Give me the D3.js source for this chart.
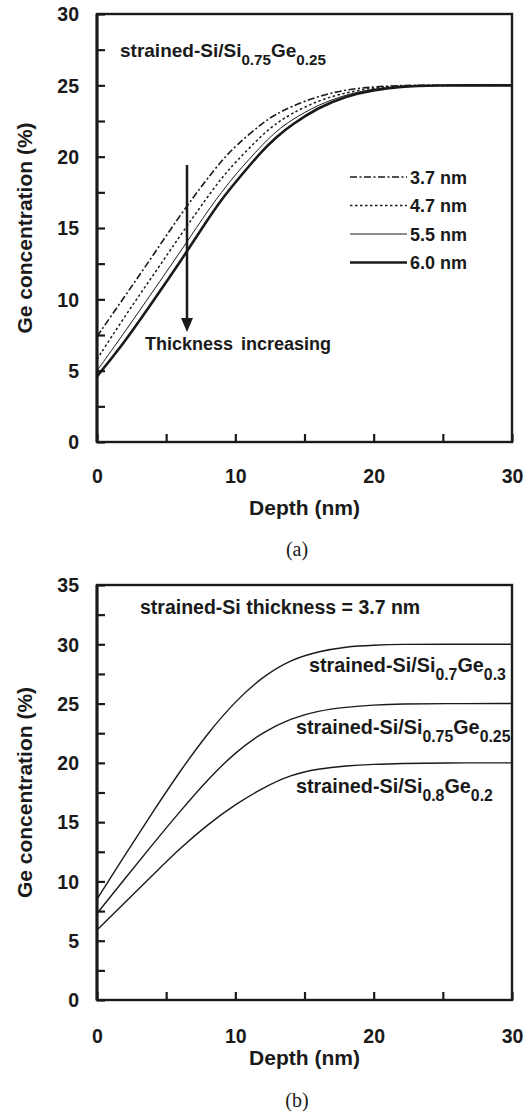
<!DOCTYPE html>
<html>
<head>
<meta charset="utf-8">
<script src="https://cdn.jsdelivr.net/npm/d3@7/dist/d3.min.js"></script>
<style>
  html, body { margin: 0; padding: 0; background: #fff; }
  svg { display: block; }
  text { font-family: "Liberation Sans", Arial, sans-serif; font-weight: bold; fill: #1a1a1a; }
  text.caption { font-family: "Liberation Serif", "Times New Roman", serif; font-weight: normal; }
</style>
</head>
<body>
<svg id="chart" width="530" height="1114"></svg>
<script>
// ---------- Data ----------
// Panel (a): strained-Si/Si0.75Ge0.25, different strained-Si thickness
const depthA = [0, 2, 4, 6, 8, 9, 10, 12, 13, 14, 16, 18, 20, 22, 24, 30];
const thicknessLabels = ["3.7 nm", "4.7 nm", "5.5 nm", "6.0 nm"];
const ge37 = [7.4, 10.2, 13.0, 15.9, 18.5, 19.7, 20.75, 22.4, 23.0, 23.5, 24.25, 24.7, 24.9, 25, 25, 25];
const ge47 = [5.8, 8.8, 11.6, 14.45, 17.2, 18.5, 19.6, 21.6, 22.35, 23.0, 23.95, 24.5, 24.83, 24.97, 25, 25];
const ge55 = [5.0, 7.7, 10.5, 13.3, 16.2, 17.5, 18.75, 20.9, 21.8, 22.55, 23.65, 24.35, 24.76, 24.93, 25, 25];
const ge60 = [4.6, 7.0, 9.8, 12.6, 15.6, 17.0, 18.2, 20.5, 21.4, 22.2, 23.45, 24.25, 24.68, 24.9, 25, 25];

// Panel (b): strained-Si thickness = 3.7 nm, different substrates
const depthB = [0, 2, 4, 6, 8, 10, 12, 14, 16, 18, 20, 22, 25, 30];
const geSub30 = [8.5, 12.2, 15.8, 19.3, 22.5, 25.2, 27.3, 28.7, 29.4, 29.8, 29.93, 30, 30, 30];
const geSub25 = [7.3, 10.2, 13.1, 15.9, 18.6, 20.9, 22.6, 23.75, 24.4, 24.7, 24.88, 24.97, 25, 25];
const geSub20 = [5.9, 8.2, 10.5, 12.8, 14.8, 16.5, 17.9, 19.0, 19.5, 19.75, 19.88, 19.95, 20, 20];

const xTicksMajor = [0, 10, 20, 30];
const yTicksA = [0, 5, 10, 15, 20, 25, 30];
const yTicksB = [0, 5, 10, 15, 20, 25, 30, 35];

// ---------- Drawing ----------
const svg = d3.select("#chart");

function panel(cfg) {
  const x = d3.scaleLinear().domain([0, 30]).range([cfg.left, cfg.right]);
  const y = d3.scaleLinear().domain([0, cfg.ymax]).range([cfg.bottom, cfg.top]);
  const g = svg.append("g");

  // y axis (ticks inward)
  const yAll = d3.range(0, cfg.ymax + 0.01, 2.5);
  const yAx = g.append("g").attr("transform", `translate(${cfg.left},0)`)
    .call(d3.axisLeft(y).tickValues(yAll).tickSize(-8).tickPadding(18)
      .tickFormat(d => cfg.yLabels.includes(d) ? d3.format("d")(d) : ""));
  yAx.select(".domain").remove();
  yAx.selectAll(".tick line").attr("stroke", "#1a1a1a").attr("stroke-width", 2.2);
  yAx.selectAll(".tick text").style("font-size", "19.5px").attr("dy", "0.35em");

  // x axis (ticks inward)
  const xAll = d3.range(0, 30.01, 5);
  const xAx = g.append("g").attr("transform", `translate(0,${cfg.bottom})`)
    .call(d3.axisBottom(x).tickValues(xAll).tickSize(-8).tickPadding(cfg.xPad)
      .tickFormat(d => xTicksMajor.includes(d) ? d3.format("d")(d) : ""));
  xAx.select(".domain").remove();
  xAx.selectAll(".tick line").attr("stroke", "#1a1a1a").attr("stroke-width", 2.2);
  xAx.selectAll(".tick text").style("font-size", "19.5px");

  // frame
  g.append("rect").attr("x", cfg.left).attr("y", cfg.top)
    .attr("width", cfg.right - cfg.left).attr("height", cfg.bottom - cfg.top)
    .attr("fill", "none").attr("stroke", "#1a1a1a").attr("stroke-width", 2.4);
  g.append("line").attr("x1", cfg.left).attr("x2", cfg.left).attr("y1", cfg.top).attr("y2", cfg.bottom)
    .attr("stroke", "#1a1a1a").attr("stroke-width", 3);

  // axis titles
  g.append("text").attr("x", (cfg.left + cfg.right) / 2).attr("y", cfg.xTitleY)
    .attr("text-anchor", "middle").style("font-size", "21px").text("Depth (nm)");
  g.append("text")
    .attr("transform", `translate(32,${(cfg.top + cfg.bottom) / 2}) rotate(-90)`)
    .attr("text-anchor", "middle").style("font-size", "21px").text("Ge concentration (%)");

  // caption
  svg.append("text").attr("class", "caption").attr("x", 297).attr("y", cfg.captionY)
    .attr("text-anchor", "middle").style("font-size", "20px").text(cfg.caption);

  return { x, y, g };
}

function drawLine(p, xs, ys, style) {
  const line = d3.line().x((d, i) => p.x(xs[i])).y(d => p.y(d)).curve(d3.curveBasis);
  p.g.append("path").datum(ys).attr("d", line).attr("fill", "none")
    .attr("stroke", "#1a1a1a").attr("stroke-width", style.w)
    .attr("stroke-dasharray", style.dash || null).attr("stroke-linejoin", "round");
}

function subText(g, xPos, yPos, size, parts) {
  const t = g.append("text").attr("x", xPos).attr("y", yPos).style("font-size", size + "px");
  parts.forEach(pp => {
    const ts = t.append("tspan").text(pp[0]);
    if (pp[1] === "sub") ts.style("font-size", (size * 0.8) + "px").attr("dy", 8);
    else if (pp[1] === "up") ts.attr("dy", -8);
  });
  return t;
}

// ---- Panel (a) ----
const pA = panel({ left: 97, right: 512, top: 14, bottom: 442, ymax: 30, yLabels: yTicksA,
  xPad: 27, xTitleY: 515, caption: "(a)", captionY: 556 });

const stylesA = [
  { w: 1.6, dash: "7,2.5,2,2.5" },
  { w: 1.5, dash: "2.5,2.5" },
  { w: 1.0 },
  { w: 2.6 }
];
[ge37, ge47, ge55, ge60].forEach((s, i) => drawLine(pA, depthA, s, stylesA[i]));

subText(pA.g, 120, 57, 19, [["strained-Si/Si"], ["0.75", "sub"], ["Ge", "up"], ["0.25", "sub"]]);

// legend
const legY = [177, 205.5, 234, 262.5];
thicknessLabels.forEach((lab, i) => {
  pA.g.append("line").attr("x1", 350).attr("x2", 407).attr("y1", legY[i]).attr("y2", legY[i])
    .attr("stroke", "#1a1a1a").attr("stroke-width", stylesA[i].w)
    .attr("stroke-dasharray", stylesA[i].dash || null);
  pA.g.append("text").attr("x", 410).attr("y", legY[i] + 6.5).style("font-size", "18px").text(lab);
});

// arrow
pA.g.append("line").attr("x1", 187).attr("x2", 187).attr("y1", 165).attr("y2", 320)
  .attr("stroke", "#1a1a1a").attr("stroke-width", 2.5);
pA.g.append("path").attr("d", "M181,318 L193,318 L187,332 Z").attr("fill", "#1a1a1a");
pA.g.append("text").attr("x", 145).attr("y", 350).style("font-size", "18px").style("word-spacing", "3px")
  .text("Thickness increasing");

// ---- Panel (b) ----
const pB = panel({ left: 97, right: 512, top: 585, bottom: 1000, ymax: 35, yLabels: yTicksB,
  xPad: 29, xTitleY: 1065, caption: "(b)", captionY: 1107 });

[geSub30, geSub25, geSub20].forEach(s => drawLine(pB, depthB, s, { w: 1.4 }));

pB.g.append("text").attr("x", 140).attr("y", 614).style("font-size", "19.5px")
  .text("strained-Si thickness = 3.7 nm");
subText(pB.g, 309, 672, 19.8, [["strained-Si/Si"], ["0.7", "sub"], ["Ge", "up"], ["0.3", "sub"]]);
subText(pB.g, 296, 734, 19.8, [["strained-Si/Si"], ["0.75", "sub"], ["Ge", "up"], ["0.25", "sub"]]);
subText(pB.g, 296, 793, 19.8, [["strained-Si/Si"], ["0.8", "sub"], ["Ge", "up"], ["0.2", "sub"]]);
</script>
</body>
</html>
